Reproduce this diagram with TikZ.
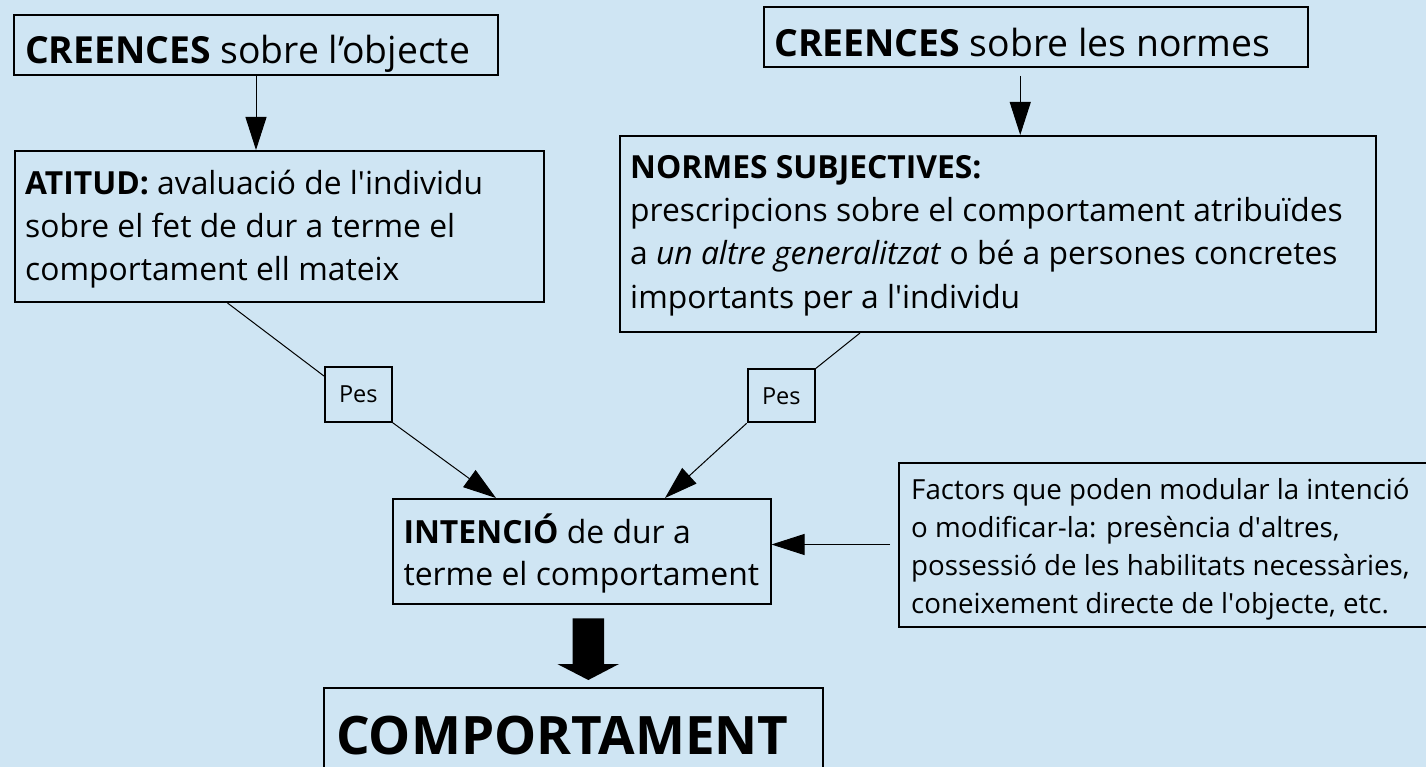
\documentclass[tikz,border=0pt]{standalone}
\usepackage{fontspec}
\setmainfont{Open Sans}
\usetikzlibrary{arrows.meta,calc}
\definecolor{bg}{RGB}{207,229,243}
\begin{document}
\begin{tikzpicture}[x=1pt,y=-1pt,
  box/.style={draw=black,line width=2pt,rectangle,inner sep=0pt,anchor=north west},
  txt/.style={inner sep=0pt,anchor=base west,align=left},
  conn/.style={draw=black,line width=1pt},
  tipped/.style={-{Triangle[length=33pt,width=21pt]}},
  pesbox/.style={draw=black,line width=2pt,rectangle,inner sep=0pt,font=\fontsize{23.5}{28}\selectfont},
]
\fill[bg] (0,0) rectangle (1426,767);
\useasboundingbox (0,0) rectangle (1426,767);

% boxes (multi-line texts are placed by the baseline of their last line)
\node[box,minimum width=484pt,minimum height=60pt] (cro) at (13,14) {};
\node[txt,font=\fontsize{37.3}{45}\selectfont] (tcro) at (25,64) {\textbf{CREENCES} sobre l’objecte};

\node[box,minimum width=529pt,minimum height=151pt] (att) at (13.5,150) {};
\node[txt,font=\fontsize{31.8}{43}\selectfont] (tatt) at (25,280.3)
  {\textbf{ATITUD:} avaluació de l\textquotesingle individu\\sobre el fet de dur a terme el\\comportament ell mateix};

\node[box,minimum width=544.5pt,minimum height=60.5pt] (crn) at (762.5,6) {};
\node[txt,font=\fontsize{37.35}{45}\selectfont] (tcrn) at (774,56.7) {\textbf{CREENCES} sobre les normes};

\node[box,minimum width=756.5pt,minimum height=196pt] (nor) at (618.5,135) {};
\node[txt,font=\fontsize{31.8}{43.3}\selectfont] (tnor) at (630,308.2)
  {\textbf{NORMES SUBJECTIVES:}\\prescripcions sobre el comportament atribuïdes\\a \textit{un altre generalitzat} o bé a persones concretes\\importants per a l\textquotesingle individu};

\node[pesbox,minimum width=66.7pt,minimum height=55pt] (pes1) at (358.3,394.2) {Pes};
\node[pesbox,minimum width=67.3pt,minimum height=53pt] (pes2) at (781.3,395.8) {Pes};

\node[box,minimum width=378pt,minimum height=105pt] (int) at (391.5,498) {};
\node[txt,font=\fontsize{31.9}{42.4}\selectfont] (tint) at (403.3,585.7)
  {\textbf{INTENCIÓ} de dur a\\terme el comportament};

\node[box,minimum width=542.5pt,minimum height=164pt] (fac) at (897.5,461.5) {};
\node[txt,font=\fontsize{27.7}{38}\selectfont] (tfac) at (911,613.3)
  {Factors que poden modular la intenció\\o modificar-la: presència d\textquotesingle altres,\\possessió de les habilitats necessàries,\\coneixement directe de l\textquotesingle objecte, etc.};

\node[box,minimum width=499pt,minimum height=113pt] (com) at (323,687) {};
\node[txt,font=\fontsize{53}{60}\selectfont\bfseries] (tcom) at (336,754) {COMPORTAMENT};

% connectors
\draw[conn,tipped] (cro.south) -- (cro.south |- att.north);
\draw[conn,tipped,shorten <=7.5pt] ([xshift=-15.5pt]crn.south) -- ([xshift=-15.5pt]crn.south |- nor.north);
\draw[conn] ([xshift=214pt]att.south west) -- ([yshift=18.2pt]pes1.west);
\draw[conn,tipped] (pes1.south east) -- ([xshift=104.5pt]int.north west);
\draw[conn] ([xshift=241.5pt]nor.south west) -- (pes2.north east);
\draw[conn,tipped] (pes2.south west) -- ([xshift=273.5pt]int.north west);
\draw[conn,tipped] ([xshift=-7.5pt]fac.west) -- (int.east |- fac.west);

% big arrow
\coordinate (ba) at (588.3,618.3);
\fill[black] (ba) ++(-15.6,0) -- ++(31.3,0) -- ++(0,45.7) -- ++(15,0) -- (588.3,680) -- (557.3,664) -- (572.7,664) -- cycle;
\end{tikzpicture}
\end{document}
